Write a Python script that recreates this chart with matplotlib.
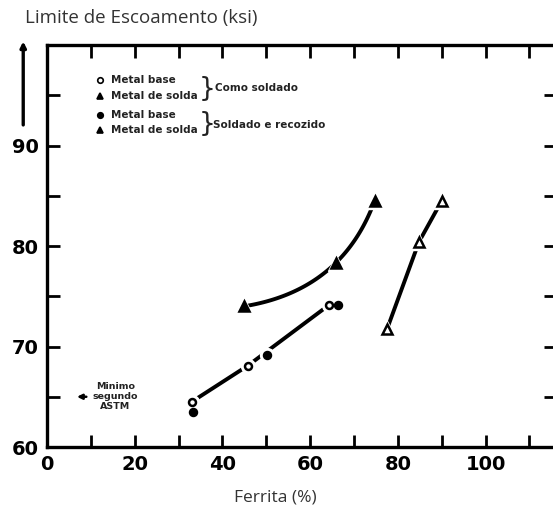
import numpy as np
import matplotlib
matplotlib.use('Agg')
import matplotlib.pyplot as plt

# Ferrita (%) x limite de escoamento (ksi)
base_como_x = [33.0, 45.8, 64.2]
base_como_y = [64.5, 68.1, 74.1]
base_recoz_x = [33.3, 50.1, 66.3]
base_recoz_y = [63.5, 69.2, 74.1]
solda_como_x = [44.9, 65.8, 74.7]
solda_como_y = [74.0, 78.3, 84.5]
solda_recoz_x = [77.5, 84.8, 90.0]
solda_recoz_y = [71.7, 80.4, 84.5]
astm_min = 65.0

xticks = [0, 20, 40, 60, 80, 100]
yticks = [60, 70, 80, 90]

fig = plt.figure(figsize=(5.53, 5.15), dpi=100)
ax = fig.add_axes([0.085, 0.132, 0.920, 0.7806])
ax.set_xlim(0, 116)
ax.set_ylim(60, 100)

for s in ax.spines.values():
	s.set_linewidth(2.4)

ax.set_xticks(xticks)
ax.set_xticks(np.arange(0, 116, 10), minor=True)
ax.set_yticks(yticks)
ax.set_yticks(np.arange(60, 100, 5), minor=True)
ax.tick_params(which='both', direction='in', length=9, width=2,
			   top=True, right=True, pad=6)
for lab in ax.get_xticklabels() + ax.get_yticklabels():
	lab.set_fontsize(14)
	lab.set_fontweight('bold')
	lab.set_family('DejaVu Sans')

lw = 2.8

# curva do metal de solda (como soldado): quadratica parametrica pela corda
px = np.array(solda_como_x) * 4.39
py = np.array(solda_como_y) * 10.0
t = np.concatenate([[0], np.cumsum(np.hypot(np.diff(px), np.diff(py)))])
t = t / t[-1]
cx = np.polyfit(t, solda_como_x, 2)
cy = np.polyfit(t, solda_como_y, 2)
ts = np.linspace(0, 1, 80)
ax.plot(np.polyval(cx, ts), np.polyval(cy, ts), color='k', lw=lw, solid_capstyle='butt')
ax.plot(base_como_x, base_como_y, color='k', lw=lw)
ax.plot(solda_recoz_x, solda_recoz_y, color='k', lw=lw)

def pts(x, y, m, ms, filled):
	ax.plot(x, y, ls='none', marker=m, ms=ms + 5, mfc='white', mec='white', zorder=3)
	ax.plot(x, y, ls='none', marker=m, ms=ms, mfc='k' if filled else 'white',
			mec='k', mew=1.8, zorder=4)

pts(base_como_x, base_como_y, 'o', 5, False)
pts(base_recoz_x, base_recoz_y, 'o', 5, True)
pts(solda_como_x, solda_como_y, '^', 6.5, True)
pts(solda_recoz_x, solda_recoz_y, '^', 6.5, False)

# legenda
leg = [(96.5, 'o', False, 'Metal base'), (94.9, '^', True, 'Metal de solda'),
	   (93.0, 'o', True, 'Metal base'), (91.5, '^', True, 'Metal de solda')]
for yy, m, f, t in leg:
	ax.plot([12.1], [yy], ls='none', marker=m, ms=4, mfc='k' if f else 'white', mec='k', mew=1.2)
	ax.text(14.5, yy, t, fontsize=7.5, fontweight='bold', va='center', color='#222222')
ax.text(34.6, 95.6, '}', fontsize=19, va='center', color='#222222')
ax.text(34.6, 92.1, '}', fontsize=19, va='center', color='#222222')
ax.text(38.3, 95.7, 'Como soldado', fontsize=7.5, fontweight='bold', va='center', color='#222222')
ax.text(37.8, 92.0, 'Soldado e recozido', fontsize=7.5, fontweight='bold', va='center', color='#222222')

# minimo ASTM
ax.annotate('', xy=(6.2, astm_min), xytext=(9.6, astm_min),
			arrowprops=dict(arrowstyle='-|>', color='k', lw=1.8, mutation_scale=7))
ax.text(10.4, astm_min, 'Minimo\nsegundo\nASTM', fontsize=6.8, fontweight='bold',
		ha='left', va='center', multialignment='center', linespacing=1.15, color='#222222')

ax.set_xlabel('Ferrita (%)', fontsize=12.5, family='Open Sans', color='#333333')
ax.xaxis.set_label_coords((275 - 47) / 509, -0.105)
fig.text(0.045, 0.965, 'Limite de Escoamento (ksi)', fontsize=13.5, family='Open Sans',
		 color='#333333', ha='left', va='center')

# seta do eixo y
fig.add_artist(matplotlib.patches.FancyArrowPatch((0.042, 0.752), (0.042, 0.925),
			   transform=fig.transFigure, arrowstyle='-|>', mutation_scale=8,
			   color='k', lw=2.4))

fig.savefig('out.png', dpi=100)
